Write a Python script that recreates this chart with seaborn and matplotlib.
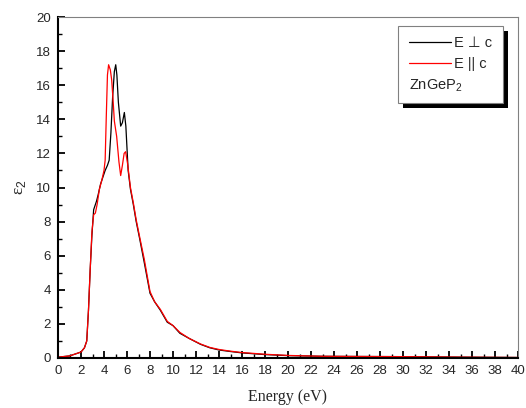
import numpy as np
import pandas as pd
import seaborn as sns
import matplotlib
matplotlib.use("Agg")
import matplotlib.pyplot as plt
from matplotlib.ticker import MultipleLocator
from matplotlib.patches import Rectangle

# ---- data ----
energy_perp = [0, 1.0, 2.0, 2.3, 2.5, 2.65, 2.8, 2.95, 3.1, 3.2, 3.35, 3.5, 3.7, 3.9, 4.1,
               4.3, 4.45, 4.6, 4.75, 4.9, 5.02, 5.12, 5.25, 5.45, 5.6, 5.77, 5.9, 6.1,
               6.3, 6.55, 6.8, 7.1, 7.5, 8.0, 8.4, 8.9, 9.5, 10.0, 10.6, 11.4, 12.4,
               13.2, 14.0, 15.0, 16.0, 18.0, 20.0, 23.0, 26.0, 30.0, 35.0, 40.0]
eps2_perp = [0.05, 0.12, 0.35, 0.6, 1.0, 2.8, 5.2, 7.2, 8.7, 8.9, 9.2, 9.6, 10.2, 10.6, 11.0,
             11.3, 11.6, 13.2, 15.3, 16.8, 17.2, 16.6, 15.0, 13.6, 13.8, 14.4, 13.6, 11.0,
             9.9, 9.0, 8.0, 7.0, 5.6, 3.8, 3.3, 2.8, 2.1, 1.9, 1.45, 1.15, 0.8,
             0.6, 0.47, 0.38, 0.3, 0.2, 0.14, 0.1, 0.09, 0.08, 0.05, 0.03]

energy_par = [0, 1.0, 2.0, 2.3, 2.5, 2.65, 2.8, 2.95, 3.1, 3.25, 3.4, 3.6, 3.8, 4.0, 4.1,
              4.2, 4.3, 4.4, 4.55, 4.67, 4.8, 4.9, 5.1, 5.3, 5.45, 5.6, 5.75, 5.88, 6.05,
              6.3, 6.55, 6.8, 7.1, 7.5, 8.0, 8.4, 8.9, 9.5, 10.0, 10.6, 11.4, 12.4,
              13.2, 14.0, 15.0, 16.0, 18.0, 20.0, 23.0, 26.0, 30.0, 35.0, 40.0]
eps2_par = [0.05, 0.12, 0.35, 0.6, 1.0, 2.8, 5.2, 7.4, 8.4, 8.5, 9.0, 9.9, 10.4, 11.0, 11.6,
            14.2, 16.6, 17.2, 16.9, 16.3, 15.0, 13.9, 13.0, 11.5, 10.7, 11.3, 12.0, 12.1, 11.4,
            10.0, 9.1, 8.1, 7.1, 5.8, 3.9, 3.3, 2.85, 2.15, 1.9, 1.5, 1.15, 0.82,
            0.62, 0.5, 0.4, 0.32, 0.22, 0.15, 0.1, 0.09, 0.08, 0.05, 0.03]

series_labels = ["E \u22a5 c", "E || c"]
series_colors = ["black", "red"]
material_label = "ZnGeP$_2$"
x_ticks = list(range(0, 41, 2))
y_ticks = list(range(0, 21, 2))

df = pd.concat([
    pd.DataFrame({"Energy": energy_perp, "eps2": eps2_perp, "pol": series_labels[0]}),
    pd.DataFrame({"Energy": energy_par, "eps2": eps2_par, "pol": series_labels[1]}),
], ignore_index=True)

sns.set_style("ticks")
plt.rcParams["font.family"] = ["Liberation Sans", "DejaVu Sans"]
plt.rcParams["mathtext.fontset"] = "custom"
plt.rcParams["mathtext.rm"] = "Liberation Sans"

fig = plt.figure(figsize=(5.26, 4.08), dpi=100)
ax = fig.add_axes([58 / 526, 50 / 408, 460 / 526, 341 / 408])

sns.lineplot(data=df, x="Energy", y="eps2", hue="pol", hue_order=series_labels,
             palette=series_colors, estimator=None, sort=False, linewidth=0.9,
             ax=ax, legend=False)

ax.set_xlim(0, 40)
ax.set_ylim(0, 20)
ax.set_xticks(x_ticks)
ax.set_yticks(y_ticks)
ax.xaxis.set_minor_locator(MultipleLocator(1))
ax.yaxis.set_minor_locator(MultipleLocator(1))
ax.tick_params(which="major", direction="in", length=5, width=1.3, labelsize=9.5,
               pad=5, color="black")
ax.tick_params(which="minor", direction="in", length=3, width=1.0, color="black")
ax.tick_params(top=False, right=False, which="both")

for s in ["left", "bottom"]:
    ax.spines[s].set_color("black")
    ax.spines[s].set_linewidth(1.5)
for s in ["top", "right"]:
    ax.spines[s].set_color("#808080")
    ax.spines[s].set_linewidth(0.8)
    ax.spines[s].set_visible(True)

ax.set_xlabel("Energy (eV)", family=["Liberation Serif"], fontsize=11.5, labelpad=9)
ax.set_ylabel("\u03b5$_2$", family=["Liberation Serif"], fontsize=12.5, labelpad=6)

# legend
handles = [plt.Line2D([], [], color=c, lw=0.9) for c in series_colors]
handles.append(plt.Line2D([], [], color="none"))
leg = ax.legend(handles, series_labels + [" "], loc="upper right",
                bbox_to_anchor=(0.967, 0.974), fontsize=10.5, handlelength=2.9,
                handletextpad=0.25, labelspacing=0.5, borderpad=0.7,
                borderaxespad=0, fancybox=False, framealpha=1,
                edgecolor="#808080")
leg.get_frame().set_linewidth(0.8)
leg.set_zorder(5)

fig.canvas.draw()
bb = leg.get_window_extent()
h0 = leg.legend_handles[0].get_window_extent()
t2 = leg.get_texts()[2].get_window_extent()
inv = fig.transFigure.inverted()
(x0, y0), (x1, y1) = inv.transform([[bb.x0, bb.y0], [bb.x1, bb.y1]])
dx, dy = 5 / 526, 5 / 408
shadow = Rectangle((x0 + dx, y0 - dy), x1 - x0, y1 - y0, transform=fig.transFigure,
                   facecolor="black", edgecolor="none", zorder=4)
ax.add_artist(shadow)
shadow.set_clip_on(False)
tx, ty = inv.transform([[h0.x0, (t2.y0 + t2.y1) / 2]])[0]
ax.text(tx, ty, material_label, transform=fig.transFigure, fontsize=10.5,
        va="center", ha="left", zorder=6)

fig.savefig("out.png", dpi=100)
